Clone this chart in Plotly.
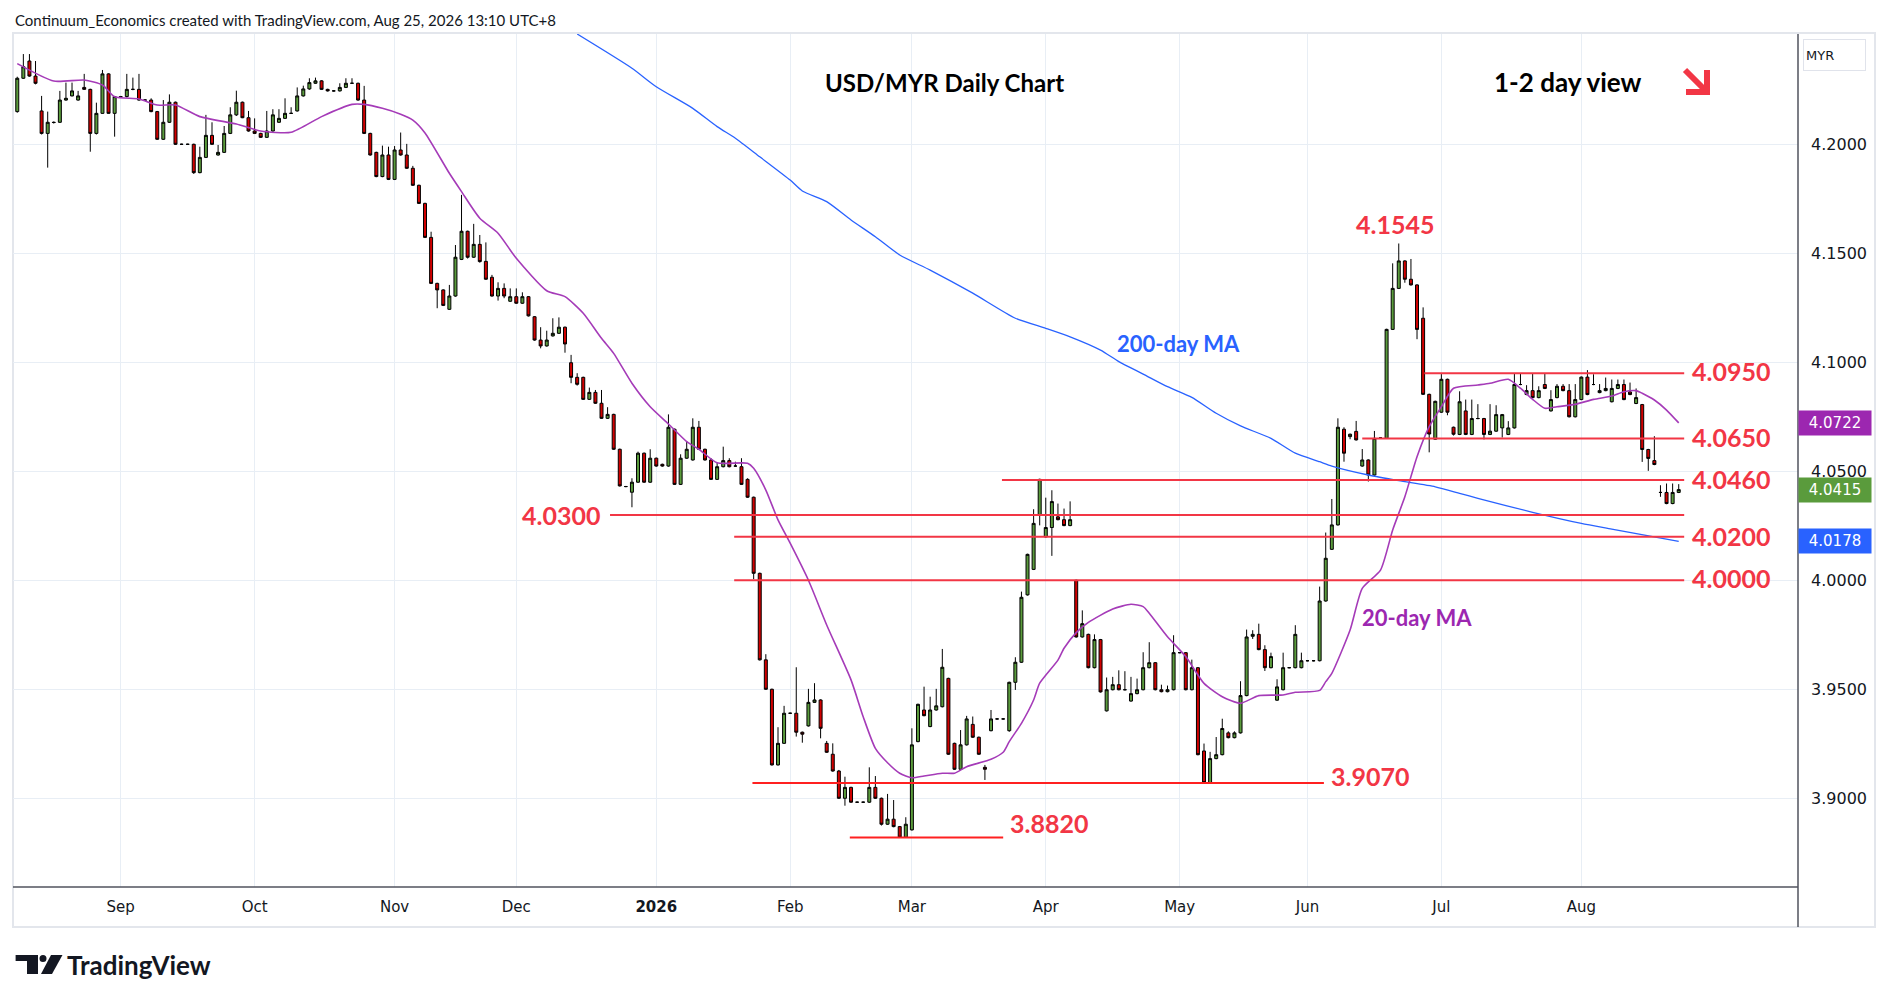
import pandas as pd
import plotly.graph_objects as go

# daily bars, USD/MYR, 7 Aug 2025 - 25 Aug 2026 (weekdays)
dates = pd.bdate_range("2025-08-07", "2026-08-25")

opens = [
    4.2150, 4.2303, 4.2382, 4.2313, 4.2153, 4.2050, 4.2101, 4.2101, 4.2203, 4.2222,
    4.2203, 4.2261, 4.2252, 4.2050, 4.2142, 4.2323, 4.2142, 4.2219, 4.2219, 4.2252,
    4.2252, 4.2203, 4.2203, 4.2150, 4.2023, 4.2101, 4.2193, 4.2000, 4.2000, 4.2000,
    4.1870, 4.1940, 4.2041, 4.1951, 4.1963, 4.2050, 4.2135, 4.2193, 4.2122, 4.2061,
    4.2050, 4.2032, 4.2061, 4.2101, 4.2119, 4.2142, 4.2153, 4.2222, 4.2254, 4.2280,
    4.2291, 4.2252, 4.2245, 4.2245, 4.2261, 4.2280, 4.2280, 4.2203, 4.2050, 4.1963,
    4.1852, 4.1951, 4.1839, 4.1974, 4.1951, 4.1890, 4.1812, 4.1729, 4.1573, 4.1362,
    4.1332, 4.1243, 4.1304, 4.1472, 4.1601, 4.1482, 4.1541, 4.1463, 4.1390, 4.1304,
    4.1339, 4.1280, 4.1301, 4.1271, 4.1301, 4.1209, 4.1102, 4.1075, 4.1121, 4.1133,
    4.1161, 4.0998, 4.0931, 4.0931, 4.0830, 4.0862, 4.0812, 4.0743, 4.0761, 4.0601,
    4.0430, 4.0404, 4.0450, 4.0583, 4.0450, 4.0560, 4.0532, 4.0524, 4.0693, 4.0440,
    4.0560, 4.0552, 4.0702, 4.0601, 4.0552, 4.0463, 4.0521, 4.0549, 4.0524, 4.0521,
    4.0463, 4.0381, 4.0032, 3.9635, 3.9500, 3.9153, 3.9252, 3.9390, 3.9390, 3.9303,
    3.9332, 3.9440, 3.9451, 3.9252, 3.9202, 3.9125, 3.9000, 3.9050, 3.8982, 3.8982,
    3.8982, 3.9050, 3.9000, 3.8881, 3.8904, 3.8870, 3.8821, 3.8855, 3.9260, 3.9405,
    3.9329, 3.9405, 3.9420, 3.9550, 3.9252, 3.9133, 3.9245, 3.9339, 3.9280, 3.9142,
    3.9310, 3.9364, 3.9364, 3.9310, 3.9532, 3.9624, 3.9933, 4.0050, 4.0301, 4.0199,
    4.0242, 4.0291, 4.0278, 4.0251, 4.0000, 3.9740, 3.9752, 3.9599, 3.9728, 3.9401,
    3.9498, 3.9521, 3.9498, 3.9446, 3.9480, 3.9498, 3.9599, 3.9622, 3.9498, 3.9489,
    3.9498, 3.9668, 3.9668, 3.9498, 3.9599, 3.9217, 3.9072, 3.9182, 3.9200, 3.9300,
    3.9278, 3.9300, 3.9471, 3.9743, 3.9752, 3.9682, 3.9599, 3.9450, 3.9498, 3.9599,
    3.9599, 3.9599, 3.9631, 3.9631, 3.9631, 3.9905, 4.0142, 4.0254, 4.0693, 4.0659,
    4.0683, 4.0524, 4.0552, 4.0483, 4.0653, 4.0651, 4.1151, 4.1339, 4.1465, 4.1381,
    4.1355, 4.1202, 4.0853, 4.0647, 4.0771, 4.0922, 4.0702, 4.0669, 4.0777, 4.0669,
    4.0742, 4.0742, 4.0669, 4.0684, 4.0699, 4.0669, 4.0699, 4.0898, 4.0852, 4.0870,
    4.0838, 4.0898, 4.0777, 4.0838, 4.0890, 4.0870, 4.0750, 4.0829, 4.0932, 4.0898,
    4.0861, 4.0870, 4.0819, 4.0880, 4.0898, 4.0864, 4.0811, 4.0806, 4.0600, 4.0549,
    4.0403, 4.0403, 4.0352, 4.0403,
]
highs = [
    4.2310, 4.2414, 4.2414, 4.2382, 4.2222, 4.2150, 4.2105, 4.2245, 4.2283, 4.2283,
    4.2245, 4.2323, 4.2255, 4.2191, 4.2341, 4.2326, 4.2222, 4.2222, 4.2323, 4.2306,
    4.2323, 4.2206, 4.2211, 4.2153, 4.2203, 4.2229, 4.2196, 4.2003, 4.2003, 4.2003,
    4.1989, 4.2135, 4.2101, 4.1997, 4.2084, 4.2170, 4.2246, 4.2196, 4.2153, 4.2119,
    4.2053, 4.2153, 4.2161, 4.2161, 4.2211, 4.2170, 4.2261, 4.2269, 4.2303, 4.2306,
    4.2294, 4.2255, 4.2248, 4.2280, 4.2303, 4.2303, 4.2283, 4.2268, 4.2053, 4.1966,
    4.1994, 4.1989, 4.1992, 4.2054, 4.2002, 4.1901, 4.1815, 4.1732, 4.1599, 4.1365,
    4.1335, 4.1355, 4.1538, 4.1768, 4.1604, 4.1635, 4.1584, 4.1550, 4.1401, 4.1367,
    4.1362, 4.1339, 4.1339, 4.1321, 4.1304, 4.1212, 4.1161, 4.1145, 4.1202, 4.1206,
    4.1164, 4.1034, 4.0950, 4.0934, 4.0884, 4.0873, 4.0873, 4.0794, 4.0764, 4.0604,
    4.0433, 4.0468, 4.0590, 4.0586, 4.0601, 4.0563, 4.0535, 4.0761, 4.0696, 4.0578,
    4.0639, 4.0743, 4.0731, 4.0604, 4.0560, 4.0541, 4.0613, 4.0560, 4.0544, 4.0560,
    4.0468, 4.0384, 4.0035, 3.9661, 3.9503, 3.9326, 3.9424, 3.9393, 3.9601, 3.9306,
    3.9502, 3.9528, 3.9454, 3.9263, 3.9252, 3.9130, 3.9099, 3.9053, 3.8985, 3.8985,
    3.9142, 3.9102, 3.9003, 3.9020, 3.8992, 3.8873, 3.8913, 3.9321, 3.9434, 3.9512,
    3.9466, 3.9502, 3.9685, 3.9553, 3.9255, 3.9313, 3.9378, 3.9375, 3.9283, 3.9153,
    3.9405, 3.9367, 3.9367, 3.9535, 3.9647, 3.9948, 4.0122, 4.0326, 4.0466, 4.0379,
    4.0413, 4.0352, 4.0329, 4.0362, 4.0003, 3.9862, 3.9755, 3.9752, 3.9731, 3.9554,
    3.9557, 3.9587, 3.9583, 3.9557, 3.9549, 3.9670, 3.9716, 3.9625, 3.9521, 3.9517,
    3.9748, 3.9671, 3.9671, 3.9636, 3.9602, 3.9251, 3.9213, 3.9281, 3.9365, 3.9307,
    3.9307, 3.9537, 3.9774, 3.9771, 3.9801, 3.9702, 3.9668, 3.9546, 3.9668, 3.9602,
    3.9794, 3.9668, 3.9634, 3.9634, 3.9971, 4.0219, 4.0373, 4.0743, 4.0702, 4.0673,
    4.0731, 4.0602, 4.0555, 4.0685, 4.0656, 4.1154, 4.1454, 4.1545, 4.1468, 4.1474,
    4.1358, 4.1252, 4.0856, 4.0824, 4.0946, 4.0925, 4.0705, 4.0867, 4.0829, 4.0829,
    4.0808, 4.0745, 4.0808, 4.0803, 4.0763, 4.0730, 4.0948, 4.0948, 4.0895, 4.0948,
    4.0890, 4.0948, 4.0872, 4.0900, 4.0900, 4.0900, 4.0900, 4.0935, 4.0964, 4.0945,
    4.0900, 4.0930, 4.0921, 4.0921, 4.0921, 4.0907, 4.0880, 4.0809, 4.0603, 4.0661,
    4.0436, 4.0444, 4.0444, 4.0441,
]
lows = [
    4.2145, 4.2300, 4.2310, 4.2275, 4.2045, 4.1893, 4.2095, 4.2098, 4.2200, 4.2220,
    4.2200, 4.2250, 4.1966, 4.2045, 4.2140, 4.2140, 4.2035, 4.2215, 4.2215, 4.2248,
    4.2200, 4.2200, 4.2147, 4.2020, 4.2020, 4.2098, 4.1997, 4.1997, 4.1997, 4.1864,
    4.1867, 4.1937, 4.1997, 4.1948, 4.1960, 4.2047, 4.2130, 4.2120, 4.2058, 4.2047,
    4.2029, 4.2029, 4.2058, 4.2098, 4.2116, 4.2139, 4.2150, 4.2219, 4.2250, 4.2277,
    4.2249, 4.2242, 4.2242, 4.2242, 4.2258, 4.2277, 4.2200, 4.2047, 4.1948, 4.1849,
    4.1849, 4.1836, 4.1836, 4.1948, 4.1887, 4.1809, 4.1726, 4.1570, 4.1359, 4.1248,
    4.1258, 4.1240, 4.1301, 4.1469, 4.1476, 4.1479, 4.1457, 4.1378, 4.1301, 4.1283,
    4.1294, 4.1277, 4.1268, 4.1268, 4.1210, 4.1099, 4.1064, 4.1072, 4.1118, 4.1130,
    4.1044, 4.0904, 4.0893, 4.0827, 4.0827, 4.0809, 4.0740, 4.0740, 4.0598, 4.0430,
    4.0427, 4.0335, 4.0447, 4.0447, 4.0447, 4.0521, 4.0521, 4.0521, 4.0437, 4.0437,
    4.0557, 4.0549, 4.0598, 4.0549, 4.0460, 4.0460, 4.0518, 4.0518, 4.0521, 4.0437,
    4.0378, 4.0005, 3.9632, 3.9497, 3.9150, 3.9150, 3.9249, 3.9387, 3.9283, 3.9255,
    3.9329, 3.9437, 3.9275, 3.9208, 3.9122, 3.8997, 3.8966, 3.8979, 3.8979, 3.8979,
    3.8979, 3.8997, 3.8875, 3.8878, 3.8867, 3.8820, 3.8820, 3.8852, 3.9257, 3.9376,
    3.9326, 3.9402, 3.9417, 3.9199, 3.9130, 3.9130, 3.9242, 3.9277, 3.9199, 3.9084,
    3.9307, 3.9361, 3.9361, 3.9305, 3.9497, 3.9621, 3.9930, 4.0047, 4.0252, 4.0196,
    4.0112, 4.0275, 4.0248, 4.0248, 3.9737, 3.9737, 3.9596, 3.9596, 3.9485, 3.9398,
    3.9495, 3.9495, 3.9495, 3.9443, 3.9477, 3.9495, 3.9596, 3.9495, 3.9486, 3.9486,
    3.9495, 3.9665, 3.9495, 3.9495, 3.9197, 3.9070, 3.9070, 3.9179, 3.9197, 3.9275,
    3.9275, 3.9297, 3.9468, 3.9731, 3.9679, 3.9584, 3.9596, 3.9447, 3.9495, 3.9596,
    3.9596, 3.9596, 3.9628, 3.9628, 3.9628, 3.9902, 4.0139, 4.0251, 4.0544, 4.0647,
    4.0641, 4.0521, 4.0453, 4.0480, 4.0650, 4.0648, 4.1148, 4.1336, 4.1365, 4.1352,
    4.1106, 4.0850, 4.0587, 4.0644, 4.0768, 4.0757, 4.0664, 4.0666, 4.0666, 4.0666,
    4.0739, 4.0646, 4.0666, 4.0681, 4.0655, 4.0666, 4.0696, 4.0895, 4.0849, 4.0835,
    4.0835, 4.0877, 4.0774, 4.0835, 4.0867, 4.0747, 4.0747, 4.0826, 4.0849, 4.0895,
    4.0858, 4.0867, 4.0816, 4.0877, 4.0826, 4.0849, 4.0808, 4.0543, 4.0502, 4.0528,
    4.0383, 4.0349, 4.0349, 4.0400,
]
closes = [
    4.2303, 4.2356, 4.2313, 4.2280, 4.2050, 4.2101, 4.2100, 4.2203, 4.2211, 4.2245,
    4.2222, 4.2252, 4.2050, 4.2142, 4.2323, 4.2142, 4.2219, 4.2219, 4.2252, 4.2252,
    4.2203, 4.2203, 4.2150, 4.2023, 4.2101, 4.2193, 4.2000, 4.2000, 4.2000, 4.1870,
    4.1940, 4.2041, 4.2000, 4.1963, 4.2050, 4.2135, 4.2193, 4.2122, 4.2061, 4.2050,
    4.2032, 4.2061, 4.2135, 4.2119, 4.2142, 4.2142, 4.2222, 4.2254, 4.2283, 4.2291,
    4.2252, 4.2245, 4.2245, 4.2261, 4.2280, 4.2280, 4.2203, 4.2050, 4.1951, 4.1852,
    4.1951, 4.1839, 4.1974, 4.1951, 4.1890, 4.1812, 4.1729, 4.1573, 4.1362, 4.1332,
    4.1261, 4.1304, 4.1482, 4.1601, 4.1482, 4.1541, 4.1462, 4.1381, 4.1304, 4.1339,
    4.1304, 4.1301, 4.1271, 4.1301, 4.1213, 4.1102, 4.1075, 4.1102, 4.1133, 4.1161,
    4.1084, 4.0931, 4.0899, 4.0830, 4.0862, 4.0812, 4.0743, 4.0761, 4.0601, 4.0433,
    4.0430, 4.0450, 4.0583, 4.0450, 4.0560, 4.0524, 4.0524, 4.0702, 4.0440, 4.0560,
    4.0601, 4.0702, 4.0601, 4.0552, 4.0463, 4.0521, 4.0549, 4.0521, 4.0524, 4.0440,
    4.0381, 4.0032, 3.9635, 3.9500, 3.9153, 3.9252, 3.9390, 3.9390, 3.9303, 3.9294,
    3.9440, 3.9451, 3.9321, 3.9211, 3.9125, 3.9000, 3.9050, 3.8982, 3.8982, 3.8982,
    3.9050, 3.9000, 3.8881, 3.8904, 3.8870, 3.8821, 3.8881, 3.9245, 3.9431, 3.9379,
    3.9405, 3.9424, 3.9601, 3.9202, 3.9133, 3.9245, 3.9364, 3.9280, 3.9202, 3.9133,
    3.9364, 3.9364, 3.9364, 3.9532, 3.9624, 3.9922, 4.0119, 4.0261, 4.0463, 4.0242,
    4.0361, 4.0278, 4.0251, 4.0278, 3.9740, 3.9801, 3.9599, 3.9728, 3.9488, 3.9498,
    3.9521, 3.9498, 3.9498, 3.9480, 3.9498, 3.9599, 3.9622, 3.9498, 3.9489, 3.9498,
    3.9668, 3.9668, 3.9498, 3.9599, 3.9200, 3.9072, 3.9182, 3.9200, 3.9320, 3.9278,
    3.9300, 3.9471, 3.9740, 3.9752, 3.9682, 3.9599, 3.9650, 3.9511, 3.9599, 3.9599,
    3.9752, 3.9631, 3.9631, 3.9631, 3.9905, 4.0101, 4.0254, 4.0702, 4.0583, 4.0670,
    4.0644, 4.0552, 4.0483, 4.0651, 4.0653, 4.1151, 4.1339, 4.1465, 4.1381, 4.1355,
    4.1151, 4.0853, 4.0671, 4.0821, 4.0922, 4.0771, 4.0670, 4.0819, 4.0669, 4.0742,
    4.0742, 4.0669, 4.0684, 4.0760, 4.0760, 4.0699, 4.0898, 4.0898, 4.0870, 4.0838,
    4.0870, 4.0880, 4.0829, 4.0890, 4.0870, 4.0750, 4.0829, 4.0932, 4.0852, 4.0898,
    4.0870, 4.0880, 4.0880, 4.0898, 4.0829, 4.0852, 4.0838, 4.0600, 4.0559, 4.0531,
    4.0403, 4.0352, 4.0403, 4.0416,
]

# moving averages (bar index, value)
ma20_x = [0, 6, 11, 14, 16, 20, 23, 26, 30, 36, 40, 45, 50, 55, 57, 60, 63, 65, 67, 71,
          73, 76, 79, 82, 87, 90, 93, 96, 98, 101, 104, 107, 110, 112, 115, 120, 121, 123,
          125, 127, 130, 133, 137, 139, 141, 143, 145, 147, 149, 152, 154, 156, 160, 162,
          163, 165, 167, 168, 171, 172, 174, 176, 180, 183, 185, 186, 189, 192, 195, 198,
          201, 204, 208, 210, 214, 215, 216, 219, 221, 224, 226, 228, 230, 232, 234, 236,
          240, 242, 245, 247, 249, 251, 253, 256, 259, 262, 264, 266, 267, 269, 271, 273]
ma20_y = [4.2370, 4.2290, 4.2295, 4.2272, 4.2218, 4.2208, 4.2180, 4.2180, 4.2127, 4.2093,
          4.2061, 4.2055, 4.2127, 4.2183, 4.2183, 4.2165, 4.2138, 4.2111, 4.2052, 4.1867,
          4.1783, 4.1661, 4.1592, 4.1477, 4.1328, 4.1301, 4.1225, 4.1110, 4.1041, 4.0904,
          4.0796, 4.0717, 4.0636, 4.0601, 4.0539, 4.0537, 4.0514, 4.0414, 4.0277, 4.0170,
          4.0000, 3.9795, 3.9543, 3.9374, 3.9229, 3.9163, 3.9115, 3.9094, 3.9102, 3.9115,
          3.9115, 3.9145, 3.9179, 3.9211, 3.9260, 3.9344, 3.9451, 3.9528, 3.9634, 3.9688,
          3.9760, 3.9807, 3.9868, 3.9890, 3.9879, 3.9849, 3.9741, 3.9650, 3.9527, 3.9466,
          3.9436, 3.9471, 3.9474, 3.9486, 3.9495, 3.9535, 3.9573, 3.9772, 3.9963, 4.0047,
          4.0231, 4.0383, 4.0567, 4.0705, 4.0796, 4.0881, 4.0896, 4.0904, 4.0922, 4.0881,
          4.0830, 4.0789, 4.0796, 4.0807, 4.0830, 4.0845, 4.0865, 4.0870, 4.0858, 4.0827,
          4.0781, 4.0722]

ma200_x = [92, 101, 105, 111, 115, 118, 122, 127, 129, 133, 137, 141, 145, 150, 157, 164,
           169, 173, 178, 181, 185, 189, 193, 197, 201, 206, 210, 214, 216, 222, 227, 233,
           237, 240, 249, 257, 262, 273]
ma200_y = [4.2506, 4.2349, 4.2264, 4.2165, 4.2081, 4.2028, 4.1943, 4.1836, 4.1786, 4.1737,
           4.1653, 4.1576, 4.1492, 4.1423, 4.1317, 4.1202, 4.1156, 4.1117, 4.1056, 4.1003,
           4.0946, 4.0888, 4.0839, 4.0766, 4.0708, 4.0651, 4.0583, 4.0544, 4.0524, 4.0483,
           4.0457, 4.0429, 4.0399, 4.0376, 4.0312, 4.0261, 4.0235, 4.0178]

# support / resistance levels drawn on the chart
levels = [4.0950, 4.0650, 4.0460, 4.0300, 4.0200, 4.0000, 3.9070, 3.8820]
level_text = ["4.0950", "4.0650", "4.0460", "4.0300", "4.0200", "4.0000", "3.9070", "3.8820"]
peak_value = 4.1545

last_close = 4.0415
ma20_last = 4.0722
ma200_last = 4.0178

price_ticks = [3.90, 3.95, 4.00, 4.05, 4.10, 4.15, 4.20]
month_labels = ["Sep", "Oct", "Nov", "Dec", "2026", "Feb", "Mar", "Apr", "May", "Jun",
                "Jul", "Aug", "Sep"]

# ---- layout geometry (pixels of a 1888 x 1002 page)
W, H = 1888, 1002
ML, MR, MT, MB = 13, 90, 34, 115
PW, PH = W - ML - MR, H - MT - MB


def px(x):
    return (x - ML) / PW


def py(y):
    return (H - MB - y) / PH


RED = "#f23645"
GREEN = "#5a9b3c"
CANDLE_RED = "#d10000"
PURPLE = "#9c27b0"
BLUE = "#2962ff"
GRID = "#e8eef5"
TXT = "#131722"

# month start positions (first bar of each month after the first partial month)
bars = list(range(len(dates)))
month_pos = []
prev = dates[0].month
for i, d in enumerate(dates):
    if d.month != prev:
        month_pos.append(i)
        prev = d.month
month_text = [("<b>%s</b>" % t if t.isdigit() else t) for t in month_labels]

fig = go.Figure()

fig.add_trace(go.Candlestick(
    x=bars, open=opens, high=highs, low=lows, close=closes,
    increasing=dict(fillcolor=GREEN, line=dict(color="#000000", width=1)),
    decreasing=dict(fillcolor=CANDLE_RED, line=dict(color="#000000", width=1)),
    whiskerwidth=0, showlegend=False, hoverinfo="skip",
))

fig.add_trace(go.Scatter(x=ma200_x, y=ma200_y, mode="lines",
                         line=dict(color=BLUE, width=1.3, shape="spline", smoothing=0.6),
                         showlegend=False, hoverinfo="skip"))
fig.add_trace(go.Scatter(x=ma20_x, y=ma20_y, mode="lines",
                         line=dict(color="#a53bb8", width=1.6, shape="spline", smoothing=0.6),
                         showlegend=False, hoverinfo="skip"))

# level line spans in bar-index units
line_span = {
    4.0950: (231.2, 273.9), 4.0650: (221.0, 273.9), 4.0460: (161.8, 273.9),
    4.0300: (97.4, 273.9), 4.0200: (117.8, 273.9), 4.0000: (117.8, 273.9),
    3.9070: (120.8, 214.7), 3.8820: (136.8, 162.0),
}
shapes = []
for lv in levels:
    x0, x1 = line_span[lv]
    col = "#ff2020" if lv < 3.95 else RED
    shapes.append(dict(type="line", xref="x", yref="y", x0=x0, x1=x1, y0=lv, y1=lv,
                       line=dict(color=col, width=2)))

# frame, axis lines
shapes.append(dict(type="rect", xref="paper", yref="paper", x0=px(13), x1=px(1875),
                   y0=py(927), y1=py(33), line=dict(color="#e3e6ec", width=2), layer="below"))
shapes.append(dict(type="line", xref="paper", yref="paper", x0=px(13), x1=px(1798),
                   y0=py(887), y1=py(887), line=dict(color="#50535e", width=1.5)))
shapes.append(dict(type="line", xref="paper", yref="paper", x0=px(1798), x1=px(1798),
                   y0=py(34), y1=py(927), line=dict(color="#50535e", width=1.5)))

# direction arrow
shapes.append(dict(type="path", xref="paper", yref="paper",
                   path="M %f %f L %f %f" % (px(1685), py(70), px(1705), py(90)),
                   line=dict(color=RED, width=6)))
shapes.append(dict(type="path", xref="paper", yref="paper",
                   path="M %f %f L %f %f L %f %f" % (px(1707), py(70), px(1707), py(92),
                                                     px(1686), py(92)),
                   line=dict(color=RED, width=6)))

# TradingView logo mark
shapes.append(dict(type="rect", xref="paper", yref="paper", x0=px(15.6), x1=px(38),
                   y0=py(961), y1=py(955), fillcolor="#131722", line_width=0))
shapes.append(dict(type="rect", xref="paper", yref="paper", x0=px(27), x1=px(38),
                   y0=py(974), y1=py(955), fillcolor="#131722", line_width=0))
shapes.append(dict(type="circle", xref="paper", yref="paper", x0=px(39.5), x1=px(46.5),
                   y0=py(962), y1=py(955), fillcolor="#131722", line_width=0))
shapes.append(dict(type="path", xref="paper", yref="paper",
                   path="M %f %f L %f %f L %f %f L %f %f Z" % (
                       px(51), py(955), px(62.5), py(955), px(52), py(974), px(41), py(974)),
                   fillcolor="#131722", line_width=0))

ann = []
LBL = dict(family="Lato", size=25, color=RED, weight="bold")
right_lbl = {4.0950: 2, 4.0650: 2, 4.0460: 1, 4.0200: 1, 4.0000: 2}
for lv, t in zip(levels, level_text):
    if lv in right_lbl:
        ann.append(dict(x=274.8, y=lv, xref="x", yref="y", text=t, showarrow=False,
                        xanchor="left", yanchor="middle", yshift=right_lbl[lv], font=LBL))
ann.append(dict(x=96.1, y=4.0300, xref="x", yref="y", text=level_text[3], showarrow=False,
                xanchor="right", yanchor="middle", font=LBL))
ann.append(dict(x=215.6, y=3.9070, xref="x", yref="y", text=level_text[6], showarrow=False,
                xanchor="left", yanchor="middle", yshift=7, font=LBL))
ann.append(dict(x=162.8, y=3.8820, xref="x", yref="y", text=level_text[7], showarrow=False,
                xanchor="left", yanchor="middle", yshift=15, font=LBL))
ann.append(dict(x=226.4, y=peak_value, xref="x", yref="y", text="%.4f" % peak_value,
                showarrow=False, xanchor="center", yanchor="middle", yshift=19, font=LBL))

ann.append(dict(x=px(944), y=py(82), xref="paper", yref="paper", text="USD/MYR Daily Chart",
                showarrow=False, xanchor="center", yanchor="middle",
                font=dict(family="Lato", size=24, color="#000000", weight="bold")))
ann.append(dict(x=px(1568), y=py(82), xref="paper", yref="paper", text="1-2 day view",
                showarrow=False, xanchor="center", yanchor="middle",
                font=dict(family="Lato", size=26, color="#000000", weight="bold")))
ann.append(dict(x=px(1178), y=py(343), xref="paper", yref="paper", text="200-day MA",
                showarrow=False, xanchor="center", yanchor="middle",
                font=dict(family="Lato", size=22, color=BLUE, weight="bold")))
ann.append(dict(x=px(1360), y=py(617), xref="paper", yref="paper", text="20-day MA",
                showarrow=False, xanchor="left", yanchor="middle",
                font=dict(family="Lato", size=22, color=PURPLE, weight="bold")))

ann.append(dict(x=px(13), y=py(20), xref="paper", yref="paper", xanchor="left",
                yanchor="middle",
                text="Continuum_Economics created with TradingView.com, Aug 25, 2026 13:10 UTC+8",
                showarrow=False, font=dict(family="Lato", size=15, color=TXT)))
ann.append(dict(x=px(65), y=py(965), xref="paper", yref="paper", xanchor="left",
                yanchor="middle", text="TradingView", showarrow=False,
                font=dict(family="Lato", size=26, color=TXT, weight="bold")))

# price-scale value tags
for val, col in [(ma20_last, PURPLE), (last_close, GREEN), (ma200_last, BLUE)]:
    ann.append(dict(x=px(1798), y=val, xref="paper", yref="y", text="%.4f" % val,
                    showarrow=False, xanchor="left", yanchor="middle", width=68, height=20,
                    borderpad=2, bgcolor=col,
                    font=dict(family="DejaVu Sans", size=15, color="#ffffff")))
ann.append(dict(x=px(1803), y=py(55), xref="paper", yref="paper", text="MYR",
                showarrow=False, xanchor="left", yanchor="middle", width=57, height=26,
                borderpad=2, align="left", bgcolor="#ffffff", bordercolor="#e0e3eb",
                borderwidth=1, font=dict(family="DejaVu Sans", size=13, color=TXT)))

x_lo = -0.70
x_hi = 292.6
y_lo = 3.8593
y_hi = 4.2506

fig.update_layout(
    width=W, height=H,
    margin=dict(l=ML, r=MR, t=MT, b=MB, pad=0),
    paper_bgcolor="#ffffff", plot_bgcolor="#ffffff",
    shapes=shapes, annotations=ann,
    xaxis=dict(range=[x_lo, x_hi], tickvals=month_pos, ticktext=month_text,
               showgrid=True, gridcolor=GRID, gridwidth=1, zeroline=False,
               showline=False, ticks="", ticklabelstandoff=9,
               tickfont=dict(family="DejaVu Sans", size=15, color=TXT),
               rangeslider=dict(visible=False), fixedrange=True),
    yaxis=dict(range=[y_lo, y_hi], side="right", tickvals=price_ticks,
               ticktext=["%.4f" % v for v in price_ticks],
               showgrid=True, gridcolor=GRID, gridwidth=1, zeroline=False,
               showline=False, ticks="", ticklabelstandoff=12,
               tickfont=dict(family="DejaVu Sans", size=16, color=TXT), fixedrange=True),
    showlegend=False,
)

fig.write_html("out.html", config=dict(displayModeBar=False),
               post_script="document.body.style.margin='0';document.body.style.overflow='hidden';")
